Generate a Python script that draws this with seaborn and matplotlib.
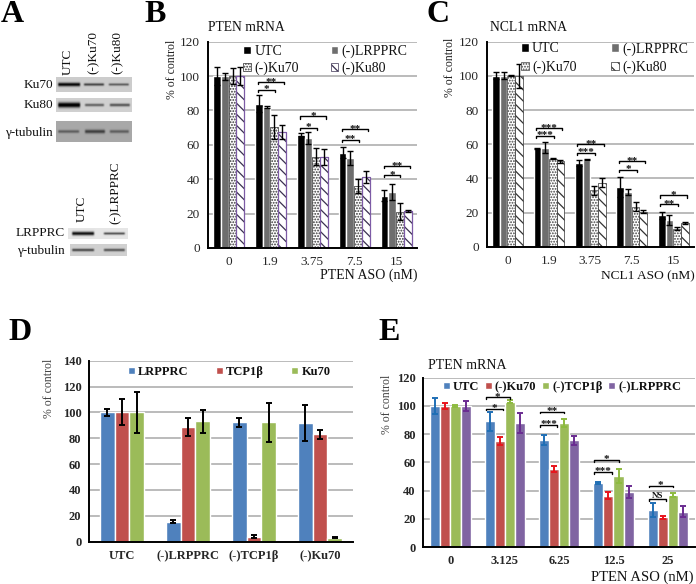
import numpy as np
import pandas as pd
import seaborn as sns
import matplotlib.pyplot as plt
from matplotlib.patches import Rectangle

# ==============================
# DATA
# ==============================

# panel B
b_doses = ["0", "1.9", "3.75", "7.5", "15"]
b_series = ["UTC", "(-)LRPPRC", "(-)Ku70", "(-)Ku80"]
b_utc = [100, 84, 66, 55.5, 30.5]
b_lrpprc = [100, 82, 64, 52.5, 32.5]
b_ku70 = [100, 70.5, 53, 36, 21]
b_ku80 = [100, 67.5, 53, 41.5, 21.5]
b_utc_err = [5, 5, 1, 3, 3]
b_lrpprc_err = [2, 0.5, 3.5, 4, 4.5]
b_ku70_err = [4.5, 7, 5, 4, 5]
b_ku80_err = [5, 4, 4.5, 3.5, 0.5]
# group, last bar, height, label
b_brackets = [(1, 2, 92, "*"), (1, 3, 96.5, "**"), (2, 2, 70, "*"), (2, 3, 76.5, "*"),
              (3, 2, 63, "**"), (3, 3, 69, "**"), (4, 2, 42.5, "*"), (4, 3, 47.5, "**")]

# panel C
c_doses = ["0", "1.9", "3.75", "7.5", "15"]
c_series = ["UTC", "(-)LRPPRC", "(-)Ku70", "(-)Ku80"]
c_utc = [100, 57.5, 49, 35, 18.5]
c_lrpprc = [100, 58, 51, 32, 15.5]
c_ku70 = [100, 51.5, 33, 23.5, 10.5]
c_ku80 = [100, 50, 37.5, 20.5, 14]
c_utc_err = [2, 0.5, 1.5, 6, 2]
c_lrpprc_err = [2, 3, 0.2, 1.5, 3]
c_ku70_err = [0.3, 0.3, 2.5, 2.5, 1]
c_ku80_err = [7, 1, 2.5, 0.7, 0.5]
c_brackets = [(1, 2, 65, "***"), (1, 3, 69.5, "***"), (2, 2, 55, "***"), (2, 3, 60, "**"),
              (3, 2, 45, "*"), (3, 3, 50, "**"), (4, 2, 25, "**"), (4, 3, 30, "*")]

# panel D
d_groups = ["UTC", "(-)LRPPRC", "(-)TCP1β", "(-)Ku70"]
d_series = ["LRPPRC", "TCP1β", "Ku70"]
d_lrpprc = [100, 15.5, 92.5, 92]
d_tcp1b = [100, 89, 4, 83]
d_ku70 = [100, 93, 92.5, 3]
d_lrpprc_err = [3, 1, 3.5, 14]
d_tcp1b_err = [10, 7, 1.5, 3.5]
d_ku70_err = [16, 9, 15, 0.5]

# panel E
e_doses = ["0", "3.125", "6.25", "12.5", "25"]
e_series = ["UTC", "(-)Ku70", "(-)TCP1β", "(-)LRPPRC"]
e_utc = [100, 89, 76, 45.5, 26.5]
e_ku70 = [100, 75, 55.5, 36.5, 21]
e_tcp1b = [100, 103, 88, 50.5, 37]
e_lrpprc = [100, 88, 75.5, 39, 25]
e_utc_err = [5.5, 6.5, 3.5, 0.5, 5]
e_ku70_err = [2, 3, 2, 2.5, 1]
e_tcp1b_err = [1, 1, 3, 5, 1.5]
e_lrpprc_err = [3.5, 7, 3.5, 4.5, 4]
e_brackets = [(1, 1, 98, "*"), (1, 2, 106, "*"), (2, 1, 86.5, "***"), (2, 2, 96, "**"),
              (3, 1, 53, "***"), (3, 2, 61.7, "*"), (4, 1, 34, "NS"), (4, 2, 43.5, "*")]

# panel A blots: box (left, right, top, bottom), background, bands (left, right, strength, thickness)
blot_ku70 = ((56, 132, 77, 92), 0.80, [(57, 81, 0.8, 1.9), (83, 105, 0.55, 1.3), (108, 130, 0.45, 1.2)])
blot_ku80 = ((56, 132, 98, 112), 0.82, [(57, 81, 0.9, 2.6), (84, 105, 0.45, 1.4), (109, 131, 0.5, 1.5)])
blot_tub1 = ((56, 132, 121, 142), 0.66, [(57, 80, 0.3, 1.5), (84, 106, 0.42, 1.9), (109, 130, 0.3, 1.6)])
blot_lrp = ((68, 128, 228, 239), 0.90, [(71, 95, 0.85, 1.9), (103, 126, 0.6, 1.2)])
blot_tub2 = ((70, 127, 244, 256), 0.82, [(71, 95, 0.55, 1.4), (103, 126, 0.5, 1.4)])
blots = [blot_ku70, blot_ku80, blot_tub1, blot_lrp, blot_tub2]

# ==============================
# STYLE
# ==============================

FIG_W, FIG_H = 696, 584
GRID = "#a8a8a8"

sns.set_theme(style="white")
plt.rcParams["font.family"] = ["Liberation Serif", "DejaVu Sans"]
plt.rcParams["hatch.linewidth"] = 0.9
plt.rcParams["text.color"] = "#111111"

fig = plt.figure(figsize=(FIG_W / 100, FIG_H / 100), dpi=100)


def make_axes(left, right, top, bottom):
    return fig.add_axes([left / FIG_W, 1 - bottom / FIG_H, (right - left) / FIG_W, (bottom - top) / FIG_H])


def bar_panel(ax, groups, series, values, errors, palette, width, ymax, step, weight, fs,
              err_colors=None, err_lw=1.0):
    rows = []
    for name, vals in zip(series, values):
        for g, v in zip(groups, vals):
            rows.append({"group": g, "series": name, "value": v})
    df = pd.DataFrame(rows)
    sns.barplot(data=df, x="group", y="value", hue="series", order=groups, hue_order=series,
                palette=palette, saturation=1, width=width, gap=0, errorbar=None, ax=ax, zorder=3)
    ax.get_legend().remove()
    for i, (bars, err) in enumerate(zip(ax.containers, errors)):
        xs = [p.get_x() + p.get_width() / 2 for p in bars]
        ys = [p.get_height() for p in bars]
        col = err_colors[i] if err_colors else "black"
        ax.errorbar(xs, ys, yerr=err, fmt="none", ecolor=col, elinewidth=err_lw, capsize=2.2,
                    capthick=err_lw, zorder=5)
    n = len(groups)
    ax.set_xlim(-0.5, n - 0.5)
    ax.set_ylim(0, ymax)
    ax.set_yticks(np.arange(0, ymax + 1, step))
    ax.set_xticks(np.arange(-0.5, n, 1))
    ax.set_xticklabels([])
    ax.set_xticks(np.arange(n), labels=groups, minor=True)
    ax.tick_params(axis="x", which="minor", length=0, pad=6, labelsize=fs)
    ax.tick_params(axis="x", which="major", length=5, width=1, direction="inout", color="black")
    ax.tick_params(axis="y", length=5, width=1, direction="inout", color="black", labelsize=fs, pad=3)
    for lab in ax.get_xticklabels(minor=True) + ax.get_yticklabels():
        lab.set_fontweight(weight)
    ax.yaxis.grid(True, color=GRID, lw=1.1)
    ax.set_axisbelow(True)
    ax.set_xlabel("")
    ax.set_ylabel("")
    for side in ["top", "right"]:
        ax.spines[side].set_visible(False)
    for side in ["left", "bottom"]:
        ax.spines[side].set_color("black")
        ax.spines[side].set_linewidth(1.4)
        ax.spines[side].set_zorder(6)


def add_brackets(ax, brackets, start, ends, fs=8):
    bars = ax.containers
    for g, last, y, lab in brackets:
        first_bar = bars[0][g]
        last_bar = bars[last][g]
        x0 = first_bar.get_x() + first_bar.get_width() * start
        x1 = last_bar.get_x() + last_bar.get_width() * ends[last]
        ax.plot([x0, x0, x1, x1], [y - 1.2, y, y, y - 1.2], color="black", lw=1, zorder=6)
        shift = -1.5 if "*" in lab else 0.6
        size = fs if "*" in lab else 6.5
        ax.text((x0 + x1) / 2, y + shift, lab, ha="center", va="baseline", fontsize=size,
                fontweight="bold", zorder=6)


def add_legend(ax, labels, order, anchor, ncol, fs, weight="normal", colspace=1.0, rowspace=0.25):
    handles = [ax.containers[i] for i in order]
    names = [labels[i] for i in order]
    ax.legend(handles, names, loc="center left", bbox_to_anchor=anchor, ncol=ncol, frameon=False,
              handlelength=0.55, handleheight=0.55, handletextpad=0.25, columnspacing=colspace,
              labelspacing=rowspace, borderpad=0, borderaxespad=0,
              prop={"size": fs, "weight": weight, "family": "Liberation Serif"})


def hatch_bars(ax, idx, fill, edge, hatch, outline=None):
    for p in ax.containers[idx]:
        p.set_facecolor(fill)
        p.set_edgecolor(edge)
        p.set_hatch(hatch)
        p.set_linewidth(0.5)
        if outline:
            ax.add_patch(Rectangle(p.get_xy(), p.get_width(), p.get_height(), fill=False,
                                   edgecolor=outline, lw=0.9, zorder=4))


def y_label(x, y, color="#222222"):
    fig.text(x / FIG_W, 1 - y / FIG_H, "% of control", rotation=90, ha="center", va="center",
             fontsize=8.5, color=color)


# ==============================
# PANEL B
# ==============================

ax_b = make_axes(207.7, 417, 41.7, 248)
bar_panel(ax_b, b_doses, b_series, [b_utc, b_lrpprc, b_ku70, b_ku80],
          [b_utc_err, b_lrpprc_err, b_ku70_err, b_ku80_err],
          ["black", "#6e6e6e", "white", "white"], 0.74, 120, 20, "normal", 9.5)
hatch_bars(ax_b, 2, "white", "#333333", "......")
hatch_bars(ax_b, 3, "white", "#3a3050", "\\\\\\", outline="#7d5ba6")
add_brackets(ax_b, b_brackets, 0.4, {2: 0.57, 3: 0.8})
add_legend(ax_b, b_series, [0, 2, 1, 3], (0.169, 0.912), 2, 10, colspace=2.3)
y_label(172, 69)
ax_b.text(0, 1.068, "PTEN mRNA", transform=ax_b.transAxes, fontsize=9.8, ha="left", va="center")
ax_b.text(1, -0.13, "PTEN ASO (nM)", transform=ax_b.transAxes, fontsize=10, ha="right", va="center")

# ==============================
# PANEL C
# ==============================

ax_c = make_axes(486.7, 694, 41.7, 246.7)
bar_panel(ax_c, c_doses, c_series, [c_utc, c_lrpprc, c_ku70, c_ku80],
          [c_utc_err, c_lrpprc_err, c_ku70_err, c_ku80_err],
          ["black", "#6e6e6e", "white", "white"], 0.74, 120, 20, "normal", 9.5)
hatch_bars(ax_c, 2, "white", "#444444", "......")
hatch_bars(ax_c, 3, "white", "#333333", "\\\\\\")
add_brackets(ax_c, c_brackets, 0.32, {2: 0.65, 3: 0.77})
add_legend(ax_c, c_series, [0, 2, 1, 3], (0.165, 0.92), 2, 10, colspace=2.5, rowspace=0.35)
y_label(450, 67)
ax_c.text(0.016, 1.07, "NCL1 mRNA", transform=ax_c.transAxes, fontsize=9.8, ha="left", va="center")
ax_c.text(1.005, -0.145, "NCL1 ASO (nM)", transform=ax_c.transAxes, fontsize=9.6, ha="right", va="center")

# ==============================
# PANEL D
# ==============================

ax_d = make_axes(89, 353, 360.7, 541.7)
bar_panel(ax_d, d_groups, d_series, [d_lrpprc, d_tcp1b, d_ku70], [d_lrpprc_err, d_tcp1b_err, d_ku70_err],
          ["#4f81bd", "#c0504d", "#9bbb59"], 0.67, 140, 20, "bold", 9, err_lw=1.4)
add_legend(ax_d, d_series, [0, 1, 2], (0.148, 0.9376), 3, 9, weight="bold", colspace=2.2)
y_label(49, 388, "#444444")

# ==============================
# PANEL E
# ==============================

ax_e = make_axes(423.3, 695, 377.7, 547)
bar_panel(ax_e, e_doses, e_series, [e_utc, e_ku70, e_tcp1b, e_lrpprc],
          [e_utc_err, e_ku70_err, e_tcp1b_err, e_lrpprc_err],
          ["#4f81bd", "#c0504d", "#9bbb59", "#8064a2"], 0.74, 120, 20, "bold", 9,
          err_colors=["#1f6fb5", "#e8141c", "#8dbb3f", "#6a2c91"], err_lw=1.4)
add_brackets(ax_e, e_brackets, 0.1, {1: 0.83, 2: 0.5})
add_legend(ax_e, e_series, [0, 1, 2, 3], (0.0725, 0.945), 4, 9, weight="bold", colspace=0.45)
y_label(387, 404, "#444444")
ax_e.text(0.018, 1.07, "PTEN mRNA", transform=ax_e.transAxes, fontsize=10, ha="left", va="center")
ax_e.text(0.995, -0.178, "PTEN ASO (nM)", transform=ax_e.transAxes, fontsize=10.5, ha="right", va="center")

# ==============================
# PANEL A (blots) AND LETTERS
# ==============================

ax_a = fig.add_axes([0, 0, 1, 1], zorder=-1)
ax_a.set_xlim(0, FIG_W)
ax_a.set_ylim(FIG_H, 0)
ax_a.axis("off")

for (left, right, top, bottom), bg, bands in blots:
    xs = np.linspace(left, right, (right - left) * 2)
    ys = np.linspace(top, bottom, (bottom - top) * 2)
    img = np.full((len(ys), len(xs)), bg)
    mid = (top + bottom) / 2
    for b0, b1, strength, thick in bands:
        across = np.exp(-((ys - mid) / thick) ** 2)
        along = np.clip((xs - b0) / 2, 0, 1) * np.clip((b1 - xs) / 2, 0, 1)
        img = img - strength * np.outer(across, along)
    ax_a.imshow(np.clip(img, 0, 1), cmap="gray", vmin=0, vmax=1, aspect="auto",
                extent=(left, right, bottom, top), interpolation="bilinear")
ax_a.set_xlim(0, FIG_W)
ax_a.set_ylim(FIG_H, 0)

for label, y in [("Ku70", 85), ("Ku80", 105), ("γ-tubulin", 133)]:
    ax_a.text(53, y, label, ha="right", va="center", fontsize=9.5)
for label, y in [("LRPPRC", 233), ("γ-tubulin", 251)]:
    ax_a.text(65, y, label, ha="right", va="center", fontsize=9.5)
for label, x, y in [("UTC", 68, 75), ("(-)Ku70", 94, 74), ("(-)Ku80", 118, 74), ("UTC", 82, 222), ("(-)LRPPRC", 116, 224)]:
    ax_a.text(x, y, label, ha="center", va="bottom", rotation=90, fontsize=9.5)

for label, x, y in [("A", 1, 15), ("B", 144, 15), ("C", 426, 14), ("D", 8, 332), ("E", 378, 332)]:
    ax_a.text(x, y, label, ha="left", va="center", fontsize=23, fontweight="bold", color="black")

plt.savefig("out.png", dpi=100)
